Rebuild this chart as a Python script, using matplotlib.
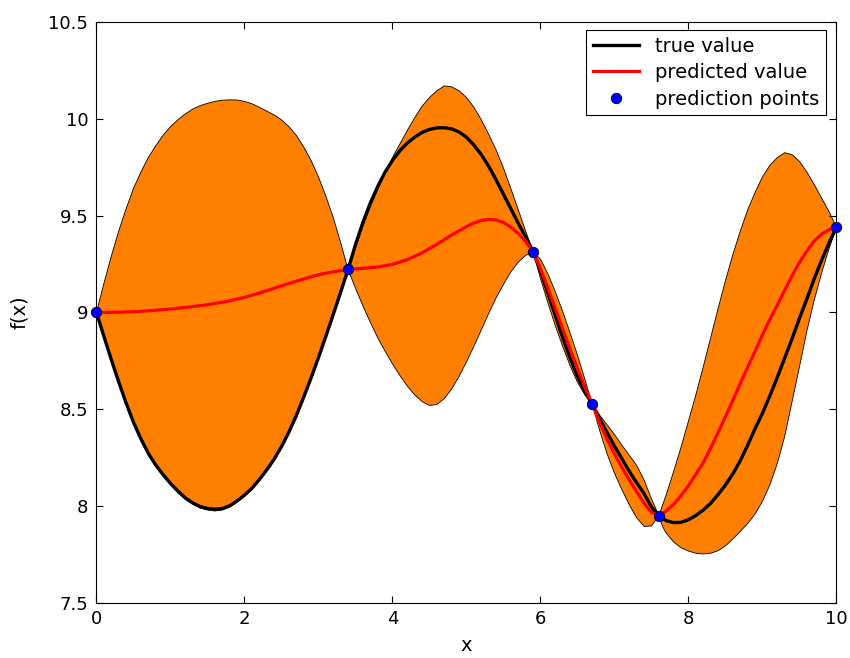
import numpy as np
import matplotlib
matplotlib.use("Agg")
import matplotlib.pyplot as plt

plt.rcParams["font.family"] = ["DejaVu Sans"]

# upper edge of the confidence band
x_upper = [0, 0.1, 0.2, 0.3, 0.4, 0.5, 0.6, 0.7, 0.8, 0.9, 1.0, 1.1, 1.2, 1.3, 1.4, 1.5, 1.6, 1.7, 1.8, 1.9,
           2.0, 2.1, 2.2, 2.3, 2.4, 2.5, 2.6, 2.7, 2.8, 2.9, 3.0, 3.1, 3.2, 3.3, 3.4,
           3.5, 3.6, 3.7, 3.8, 3.9, 4.0, 4.1, 4.2, 4.3, 4.4, 4.5, 4.6, 4.7, 4.8, 4.9,
           5.0, 5.1, 5.2, 5.3, 5.4, 5.5, 5.6, 5.7, 5.8, 5.9,
           6.0, 6.1, 6.2, 6.3, 6.4, 6.5, 6.6, 6.7,
           6.8, 6.9, 7.0, 7.1, 7.2, 7.3, 7.4, 7.5, 7.6,
           7.7, 7.8, 7.9, 8.0, 8.1, 8.2, 8.3, 8.4, 8.5, 8.6, 8.7, 8.8, 8.9,
           9.0, 9.1, 9.2, 9.3, 9.4, 9.5, 9.6, 9.7, 9.8, 9.9, 10]
y_upper = [9.0, 9.15, 9.29, 9.42, 9.535, 9.64, 9.725, 9.80, 9.86, 9.915, 9.96, 9.995, 10.025, 10.05, 10.068,
           10.08, 10.09, 10.096, 10.098, 10.097,
           10.09, 10.078, 10.06, 10.04, 10.02, 9.995, 9.96, 9.915, 9.855, 9.785, 9.70, 9.60, 9.49, 9.36, 9.222,
           9.335, 9.445, 9.545, 9.635, 9.72, 9.80, 9.87, 9.94, 10.005, 10.065, 10.11, 10.145, 10.17, 10.165, 10.145,
           10.11, 10.06, 9.995, 9.92, 9.84, 9.745, 9.64, 9.53, 9.42, 9.314,
           9.275, 9.2, 9.108, 9.005, 8.895, 8.78, 8.655, 8.526,
           8.47, 8.42, 8.37, 8.315, 8.263, 8.21, 8.135, 8.038, 7.951,
           8.06, 8.18, 8.305, 8.44, 8.575, 8.72, 8.87, 9.02, 9.165, 9.30, 9.42, 9.53, 9.62,
           9.70, 9.76, 9.80, 9.825, 9.815, 9.78, 9.725, 9.66, 9.59, 9.52, 9.44]

# lower edge of the confidence band
x_lower = [0, 0.1, 0.2, 0.3, 0.4, 0.5, 0.6, 0.7, 0.8, 0.9, 1.0, 1.1, 1.2, 1.3, 1.4, 1.5, 1.6, 1.7, 1.8, 1.9,
           2.0, 2.1, 2.2, 2.3, 2.4, 2.5, 2.6, 2.7, 2.8, 2.9, 3.0, 3.1, 3.2, 3.3, 3.4,
           3.5, 3.6, 3.7, 3.8, 3.9, 4.0, 4.1, 4.2, 4.3, 4.4, 4.5, 4.6, 4.7, 4.8, 4.9,
           5.0, 5.1, 5.2, 5.3, 5.4, 5.5, 5.6, 5.7, 5.8, 5.9,
           6.0, 6.1, 6.2, 6.3, 6.4, 6.5, 6.6, 6.7,
           6.8, 6.9, 7.0, 7.1, 7.2, 7.3, 7.4, 7.5, 7.6,
           7.65, 7.7, 7.8, 7.9, 8.0, 8.1, 8.2, 8.3, 8.4, 8.5, 8.6, 8.7, 8.8, 8.9,
           9.0, 9.1, 9.2, 9.3, 9.4, 9.5, 9.6, 9.7, 9.8, 9.9, 10]
y_lower = [9.0, 8.872, 8.75, 8.635, 8.525, 8.425, 8.34, 8.265, 8.205, 8.155, 8.11, 8.07, 8.035, 8.01, 7.99,
           7.98, 7.975, 7.98, 7.995, 8.02,
           8.05, 8.085, 8.13, 8.18, 8.235, 8.30, 8.375, 8.46, 8.555, 8.655, 8.76, 8.87, 8.985, 9.1, 9.222,
           9.125, 9.035, 8.95, 8.87, 8.80, 8.735, 8.675, 8.62, 8.575, 8.54, 8.52, 8.525, 8.555, 8.605, 8.67,
           8.745, 8.825, 8.91, 8.995, 9.075, 9.145, 9.21, 9.26, 9.295, 9.314,
           9.175, 9.05, 8.932, 8.825, 8.725, 8.64, 8.575, 8.526,
           8.39, 8.27, 8.17, 8.085, 8.007, 7.94, 7.895, 7.898, 7.951,
           7.895, 7.86, 7.815, 7.785, 7.768, 7.757, 7.753, 7.757, 7.77, 7.795, 7.83, 7.87, 7.91, 7.96,
           8.025, 8.11, 8.22, 8.36, 8.54, 8.72, 8.905, 9.065, 9.205, 9.33, 9.44]

# true function
x_true = [0, 0.1, 0.2, 0.3, 0.4, 0.5, 0.6, 0.7, 0.8, 0.9, 1.0, 1.1, 1.2, 1.3, 1.4, 1.5, 1.6, 1.7, 1.8, 1.9,
          2.0, 2.1, 2.2, 2.3, 2.4, 2.5, 2.6, 2.7, 2.8, 2.9, 3.0, 3.1, 3.2, 3.3, 3.4,
          3.5, 3.6, 3.7, 3.8, 3.9, 4.0, 4.1, 4.2, 4.3, 4.4, 4.5, 4.6, 4.7, 4.8, 4.9,
          5.0, 5.1, 5.2, 5.3, 5.4, 5.5, 5.6, 5.7, 5.8, 5.9,
          6.0, 6.1, 6.2, 6.3, 6.4, 6.5, 6.6, 6.7,
          6.8, 6.9, 7.0, 7.1, 7.2, 7.3, 7.4, 7.5, 7.6,
          7.7, 7.8, 7.9, 8.0, 8.1, 8.2, 8.3, 8.4, 8.5, 8.6, 8.7, 8.8, 8.9,
          9.0, 9.1, 9.2, 9.3, 9.4, 9.5, 9.6, 9.7, 9.8, 9.9, 10]
y_true = [9.0, 8.877, 8.757, 8.642, 8.533, 8.433, 8.348, 8.273, 8.213, 8.163, 8.118, 8.078, 8.043, 8.017, 7.998,
          7.988, 7.984, 7.988, 8.002, 8.027,
          8.057, 8.092, 8.137, 8.187, 8.242, 8.307, 8.382, 8.467, 8.562, 8.662, 8.767, 8.877, 8.99, 9.105, 9.222,
          9.35, 9.465, 9.565, 9.65, 9.725, 9.785, 9.835, 9.875, 9.905, 9.93, 9.945, 9.953, 9.954, 9.948, 9.932,
          9.905, 9.865, 9.815, 9.755, 9.685, 9.61, 9.535, 9.46, 9.39, 9.314,
          9.215, 9.10, 8.985, 8.87, 8.765, 8.67, 8.59, 8.526,
          8.45, 8.38, 8.31, 8.245, 8.18, 8.12, 8.065, 7.995, 7.951,
          7.925, 7.915, 7.916, 7.93, 7.952, 7.98, 8.015, 8.06, 8.11, 8.167, 8.235, 8.315, 8.40,
          8.48, 8.57, 8.665, 8.765, 8.865, 8.97, 9.07, 9.175, 9.27, 9.36, 9.44]

# predicted mean
x_pred = [0, 0.25, 0.5, 0.75, 1.0, 1.25, 1.5, 1.75, 2.0, 2.2, 2.4, 2.6, 2.8, 3.0, 3.2, 3.4,
          3.6, 3.8, 4.0, 4.2, 4.4, 4.6, 4.8, 5.0, 5.1, 5.2, 5.3, 5.4, 5.5, 5.6, 5.7, 5.8, 5.9,
          6.0, 6.1, 6.2, 6.3, 6.4, 6.5, 6.6, 6.7,
          6.8, 6.9, 7.0, 7.1, 7.2, 7.3, 7.4, 7.5, 7.6,
          7.65, 7.7, 7.8, 7.9, 8.0, 8.1, 8.2, 8.3, 8.4, 8.5, 8.6, 8.7, 8.8, 8.9,
          9.0, 9.1, 9.2, 9.3, 9.4, 9.5, 9.6, 9.7, 9.8, 9.9, 10]
y_pred = [9.0, 9.001, 9.004, 9.01, 9.018, 9.028, 9.04, 9.056, 9.078, 9.1, 9.125, 9.15, 9.173, 9.195, 9.21, 9.222,
          9.228, 9.235, 9.248, 9.273, 9.308, 9.352, 9.40, 9.443, 9.462, 9.475, 9.481, 9.478, 9.465, 9.44, 9.408,
          9.366, 9.314,
          9.225, 9.125, 9.02, 8.915, 8.81, 8.71, 8.615, 8.526,
          8.43, 8.345, 8.27, 8.2, 8.135, 8.075, 8.015, 7.968, 7.951,
          7.962, 7.975, 8.01, 8.055, 8.105, 8.165, 8.225, 8.30, 8.38, 8.463, 8.547, 8.633, 8.718, 8.80,
          8.885, 8.965, 9.038, 9.115, 9.19, 9.258, 9.318, 9.37, 9.405, 9.428, 9.44]

# prediction points
x_pts = [0, 3.4, 5.9, 6.7, 7.6, 10]
y_pts = [9.0, 9.222, 9.314, 8.526, 7.951, 9.44]

x_ticks = [0, 2, 4, 6, 8, 10]
y_ticks = [7.5, 8, 8.5, 9, 9.5, 10, 10.5]
y_ticklabels = ["7.5", "8", "8.5", "9", "9.5", "10", "10.5"]

fig = plt.figure(figsize=(8.5, 6.58), dpi=100)
ax = fig.add_axes([0.1135, 0.0836, 0.8706, 0.883])

band_x = np.concatenate([x_upper, x_lower[::-1]])
band_y = np.concatenate([y_upper, y_lower[::-1]])
ax.fill(band_x, band_y, facecolor="#ff8000", edgecolor="black", linewidth=0.6, zorder=1)

ax.plot(x_true, y_true, color="black", linewidth=2.4, label="true value", zorder=2)
ax.plot(x_pred, y_pred, color="red", linewidth=2.3, label="predicted value", zorder=3)
ax.plot(x_pts, y_pts, "o", markerfacecolor="blue", markeredgecolor="black", markeredgewidth=0.6,
        markersize=7.5, label="prediction points", clip_on=False, zorder=4)

ax.set_xlim(0, 10)
ax.set_ylim(7.5, 10.5)
ax.set_xticks(x_ticks)
ax.set_xticklabels([str(t) for t in x_ticks])
ax.set_yticks(y_ticks)
ax.set_yticklabels(y_ticklabels)
ax.tick_params(direction="in", top=True, right=True, length=5, width=0.8, labelsize=13)
ax.tick_params(axis="y", pad=6)
ax.tick_params(axis="x", pad=5)
for s in ax.spines.values():
    s.set_linewidth(0.8)

ax.set_xlabel("x", fontsize=14, labelpad=6)
ax.set_ylabel("f(x)", fontsize=14, labelpad=14)

leg = ax.legend(loc="upper right", bbox_to_anchor=(0.9858, 0.9862), fontsize=14, fancybox=False,
                framealpha=1, edgecolor="black", handlelength=2.4, handletextpad=0.8,
                borderpad=0.35, labelspacing=0.38, borderaxespad=0)
leg.get_frame().set_linewidth(0.8)

fig.savefig("out.png", dpi=100)
